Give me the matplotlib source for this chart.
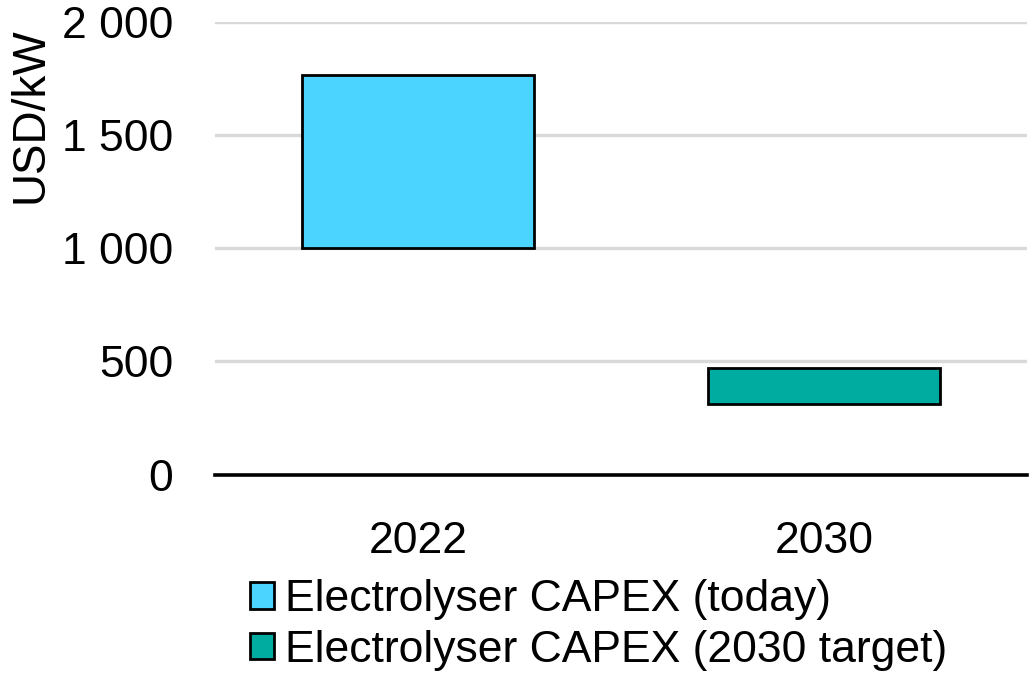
import matplotlib.pyplot as plt
from matplotlib.patches import Patch

# data
years = ['2022', '2030']
capex_low = [1000, 310]
capex_high = [1765, 470]
series_labels = ['Electrolyser CAPEX (today)', 'Electrolyser CAPEX (2030 target)']
colors = ['#4BD4FF', '#00AB9F']
y_ticks = [0, 500, 1000, 1500, 2000]
y_tick_labels = ['0', '500', '1 000', '1 500', '2 000']

plt.rcParams['font.family'] = ['Liberation Sans', 'DejaVu Sans']

W, H = 1033, 673
fig = plt.figure(figsize=(W / 100, H / 100), dpi=100)
ax = fig.add_axes([215 / W, 1 - 474.7 / H, 812 / W, 453.2 / H])

x = list(range(len(years)))
heights = [h - l for l, h in zip(capex_low, capex_high)]
ax.bar(x, heights, bottom=capex_low, width=0.573, color=colors,
       edgecolor='black', linewidth=2, zorder=3)

ax.set_xlim(-0.5, 1.5)
ax.set_ylim(0, 2000)
ax.set_yticks(y_ticks)
ax.set_yticklabels(y_tick_labels, fontsize=32)
ax.set_xticks(x)
ax.set_xticklabels(years, fontsize=32)
ax.tick_params(axis='y', length=0, pad=30)
ax.tick_params(axis='x', length=0, pad=33)

ax.grid(axis='y', color='#D9D9D9', linewidth=2.4, zorder=0)
ax.set_axisbelow(True)
for s in ['top', 'right', 'left']:
    ax.spines[s].set_visible(False)
ax.spines['bottom'].set_linewidth(2.6)
ax.spines['bottom'].set_zorder(4)

ax.set_ylabel('USD/kW', fontsize=33)
ax.yaxis.set_label_coords(-162 / 812, 0.794)

handles = [Patch(facecolor=c, edgecolor='black', linewidth=2) for c in colors]
fig.legend(handles, series_labels, loc='upper left',
           bbox_to_anchor=(250 / W, 1 - 579 / H), frameon=False,
           fontsize=32, handlelength=0.54, handleheight=0.54,
           handletextpad=0.25, labelspacing=0.22, borderpad=0, borderaxespad=0)

fig.savefig('out.png', dpi=100)
